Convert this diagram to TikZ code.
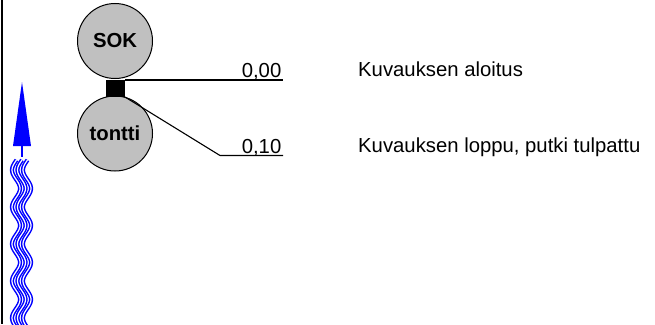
\documentclass[tikz,border=0pt]{standalone}
\usepackage{fontspec}
\setmainfont{Liberation Sans}
\definecolor{ballgray}{HTML}{C0C0C0}
\definecolor{wblue}{HTML}{0000FF}
\begin{document}
\begin{tikzpicture}[x=1pt,y=-1pt,
  font=\fontsize{20.3}{24}\selectfont,
  ball/.style={circle, draw=black, line width=1pt, fill=ballgray, minimum size=75pt, inner sep=0pt, font=\fontsize{20.3}{24}\selectfont\bfseries},
  pipe/.style={rectangle, fill=black, minimum width=19pt, minimum height=17pt, inner sep=0pt, outer sep=0pt},
  leader/.style={draw=black, line width=1.1pt},
  val/.style={anchor=base east, inner sep=0pt},
  desc/.style={anchor=base west, inner sep=0pt},
  wave/.style={draw=wblue, line width=1.5pt, double=white, double distance=1.2pt},
  frame/.style={draw=black, line width=2.5pt}
]
\useasboundingbox (0,0) rectangle (655,324);
% left frame line
\coordinate (ftop) at (2,0);
\coordinate (fbot) at (2,324);
\draw[frame] (ftop) -- (fbot);
% blue flow arrow
\fill[wblue] (13,146) -- (31,146) -- (22,82) -- cycle;
\draw[wblue, line width=2pt] (22,146) -- (22,157);
\foreach \xc in {16,21.5,27}
  \draw[wave] plot[domain=160:330, samples=120, smooth] ({\xc - 4*cos(9.72973*(\x-170))}, \x);
% manholes
\node[ball] (sok) at (115,41) {SOK};
\node[ball] (tontti) at (115,133.5) {tontti};
\node[pipe] (p) at (115.5,88.5) {};
% leaders
\coordinate (e0) at (283,80);
\coordinate (k1) at (220,155.5);
\coordinate (e1) at (283,155.5);
\draw[leader] (p.north east) -- (e0);
\draw[leader] (p.south east) -- (k1) -- (e1);
% labels
\node[val] (v0) at (281.5,77.5) {0,00};
\node[val] (v1) at (281.5,153.5) {0,10};
\node[desc] (d0) at (358,76.7) {Kuvauksen aloitus};
\node[desc] (d1) at (358,152) {Kuvauksen loppu, putki tulpattu};
\end{tikzpicture}
\end{document}
